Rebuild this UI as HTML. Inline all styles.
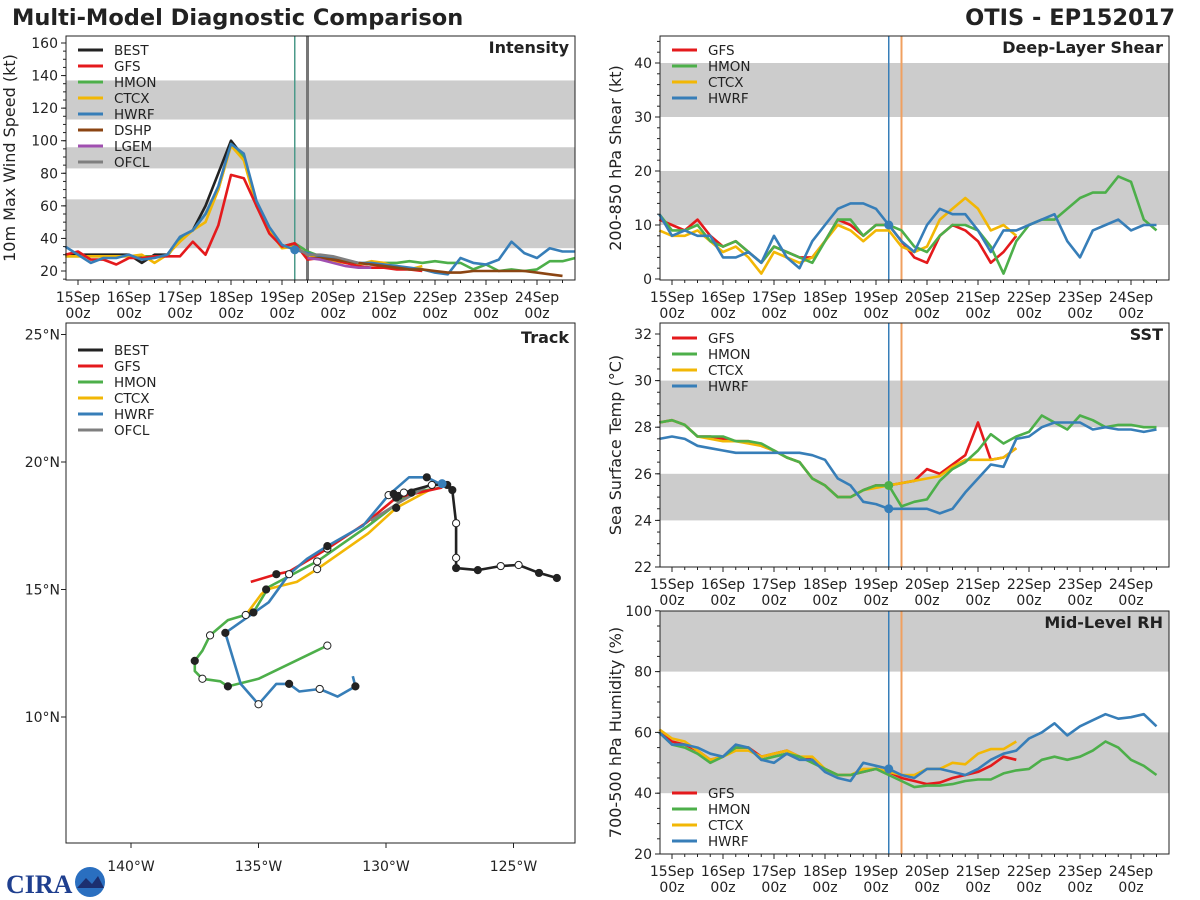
<!DOCTYPE html>
<html><head><meta charset="utf-8">
<style>
html,body{margin:0;padding:0;background:#fff;}
svg{display:block;font-family:"DejaVu Sans","Liberation Sans",sans-serif;}
</style></head>
<body>
<svg id="chart" width="1200" height="900" viewBox="0 0 1200 900" xmlns="http://www.w3.org/2000/svg">
<text x="12" y="25" font-size="22.5" font-weight="bold" fill="#222">Multi-Model Diagnostic Comparison</text>
<text x="1175" y="25" font-size="22.5" font-weight="bold" fill="#222" text-anchor="end">OTIS - EP152017</text>
<g>
<text x="6" y="893" font-size="26" font-weight="bold" fill="#1f3f8f" font-family="Liberation Serif, serif">CIRA</text>
<circle cx="90" cy="882" r="15" fill="#2a6fc0"/>
<path d="M77 888 L86 878 L92 884 L98 876 L104 888 Z" fill="#1c2f70"/>
</g>
<g id="root"></g>
</svg>
<script>
// ---------- DATA ----------
const seriesNamesIntensity = ["BEST","GFS","HMON","CTCX","HWRF","DSHP","LGEM","OFCL"];
const intBEST = [30,30,30,30,30,30,25,30,30,40,45,60,80,100,90,60,45,35,35];
const intGFS  = [30,32,27,27,24,28,28,29,29,29,38,30,48,79,77,60,43,35,37,27,28,27,25,23,22,22,21,21,20];
const intHMON = [29,29,29,29,29,29,29,29,29,40,45,55,70,98,90,62,45,35,37,32,29,27,26,25,24,25,25,26,25,26,25,25,21,24,20,21,20,21,26,26,28];
const intCTCX = [29,29,29,29,29,29,30,25,30,38,45,50,70,97,88,60,45,34,35,30,28,26,25,24,26,25,22,21,23];
const intHWRF = [35,30,25,28,28,30,27,28,30,41,45,55,72,98,92,63,47,36,33,31,29,28,26,25,25,24,23,22,21,19,18,28,25,24,27,38,31,28,34,32,32];
const intDSHP = [28,28,27,26,25,24,23,22,21,21,20,19,19,20,20,20,20,20,19,18,17];
const intLGEM = [28,27,25,23,22,22];
const intOFCL = [35,30,30,29,27,25];
const intTicks = [20,40,60,80,100,120,140,160];

const shrGFS  = [11,10,9,11,8,6,7,5,3,6,5,4,4,7,11,10,8,10,10,7,4,3,8,10,9,7,3,5,8];
const shrHMON = [12,9,9,10,7,6,7,5,3,6,5,4,3,7,11,11,8,10,10,9,6,5,8,10,10,9,6,1,7,10,11,11,13,15,16,16,19,18,11,9];
const shrCTCX = [9,8,8,9,7,5,6,4,1,5,4,3,4,7,10,9,7,9,9,6,5,6,11,13,15,13,9,10,8];
const shrHWRF = [12,8,9,8,8,4,4,5,3,8,4,2,7,10,13,14,14,13,10,7,5,10,13,12,12,9,5,9,9,10,11,12,7,4,9,10,11,9,10,10];
const shrTicks = [0,10,20,30,40];

const sstGFS  = [28.2,28.3,28.1,27.6,27.6,27.5,27.4,27.4,27.2,27,26.7,26.5,25.8,25.5,25,25,25.3,25.5,25.5,25.6,25.7,26.2,26,26.4,26.8,28.2,26.6,26.7,27.1];
const sstHMON = [28.2,28.3,28.1,27.6,27.6,27.6,27.4,27.4,27.3,27,26.7,26.5,25.8,25.5,25,25,25.3,25.5,25.5,24.6,24.8,24.9,25.7,26.2,26.5,27,27.7,27.3,27.6,27.8,28.5,28.2,27.9,28.5,28.3,28,28.1,28.1,28,28];
const sstCTCX = [28.2,28.3,28.1,27.6,27.5,27.4,27.4,27.3,27.2,27,26.7,26.5,25.8,25.5,25,25,25.3,25.4,25.5,25.6,25.7,25.8,25.9,26.3,26.6,26.6,26.6,26.7,27.1];
const sstHWRF = [27.5,27.6,27.5,27.2,27.1,27,26.9,26.9,26.9,26.9,26.9,26.9,26.8,26.6,25.8,25.5,24.8,24.7,24.5,24.5,24.5,24.5,24.3,24.5,25.2,25.8,26.4,26.3,27.5,27.6,28,28.2,28.2,28.2,27.9,28,27.9,27.9,27.8,27.9];
const sstTicks = [22,24,26,28,30,32];

const rhGFS  = [60,57,56,54,51,52,55,55,52,53,54,52,51,48,46,46,47,48,47,45,44,43,43.5,45,46,47,49,52,51];
const rhHMON = [60,56,55,53,50,52,55,55,51,52,53,52,50,48,46,46,47,48,46,44,42,42.5,42.5,43,44,44.5,44.5,46.5,47.5,48,51,52,51,52,54,57,55,51,49,46];
const rhCTCX = [61,58,57,54,51,52,54,54,52,53,54,52,52,48,46,46,48,48,47,46,46,48,48,50,49.5,53,54.5,54.5,57];
const rhHWRF = [60,56,56,55,53,52,56,55,51,50,53,51,51,47,45,44,50,49,48,46,45,48,48,47,46,48,51,53,54,58,60,63,59,62,64,66,64.5,65,66,62];
const rhTicks = [20,40,60,80,100];

const dayLabels = ["15Sep","16Sep","17Sep","18Sep","19Sep","20Sep","21Sep","22Sep","23Sep","24Sep"];

// track: [lonW, lat]
const trkBEST = [[129.7,18.75],[129.5,18.67],[129.3,18.8],[128.2,19.1],[127.6,19.1],[127.4,18.9],[127.25,17.6],[127.25,16.24],[127.25,15.84],[126.4,15.76],[125.5,15.92],[124.8,15.96],[124.0,15.65],[123.3,15.45]];
const trkHWRF = [[127.8,19.1],[128.4,19.4],[129.1,19.4],[129.9,18.7],[130.9,17.5],[132.3,16.7],[133.1,16.2],[133.8,15.6],[134.6,14.5],[136.3,13.3],[135.7,11.3],[135.0,10.5],[134.3,11.3],[133.8,11.3],[133.4,11.0],[132.6,11.1],[131.9,10.8],[131.2,11.2],[131.3,11.6]];
const trkHMON = [[127.8,19.0],[129.0,18.8],[130.7,17.5],[132.7,16.1],[134.6,15.1],[135.2,14.1],[136.2,13.8],[136.9,13.2],[137.2,12.6],[137.5,12.2],[137.5,11.8],[137.2,11.5],[136.5,11.4],[136.2,11.2],[135.0,11.5],[132.3,12.8]];
const trkGFS  = [[127.8,19.0],[129.6,18.6],[130.8,17.6],[132.3,16.6],[133.8,15.7],[134.3,15.6],[135.3,15.3]];
const trkCTCX = [[128.3,18.9],[129.6,18.2],[130.7,17.2],[132.7,15.8],[133.5,15.3],[134.7,15.0],[134.9,14.8],[135.5,14.0]];
const trkOFCL = [[128.3,19.1],[129.5,18.4],[130.6,17.7]];
const latTicks = [10,15,20,25];
const lonTicks = [140,135,130,125];

const COL = {BEST:"#222222",GFS:"#e41a1c",HMON:"#4daf4a",CTCX:"#f2b705",HWRF:"#377eb8",DSHP:"#8b4513",LGEM:"#a04fb0",OFCL:"#7f7f7f"};

// ---------- HELPERS ----------
const NS="http://www.w3.org/2000/svg";
const root=document.getElementById('root');
function mk(tag,attrs,parent){const e=document.createElementNS(NS,tag);for(const k in attrs)e.setAttribute(k,attrs[k]);(parent||root).appendChild(e);return e;}

function timePanel(o){
  const g=mk('g',{});
  
  
  const xs=h=>o.xOrig+h*51/24;
  const ys=v=>o.yA-(v-o.vA)*o.k;
  o.bands.forEach(b=>{
    const y1=Math.max(ys(b[1]),o.y0), y2=Math.min(ys(b[0]),o.y1);
    const r=mk('rect',{x:o.x0,y:y1,width:o.x1-o.x0,height:y2-y1,fill:'#cccccc'},g);
    
    
  });
  o.vlines.forEach(v=>{
    const l=mk('line',{x1:xs(v.h),x2:xs(v.h),y1:o.y0,y2:o.y1,stroke:v.c,'stroke-width':v.w},g);
    
    
  });
  o.series.forEach(s=>{
    const pts=s.vals.map((v,i)=>xs(s.h0+i*6).toFixed(1)+','+ys(v).toFixed(1)).join(' ');
    const p=mk('polyline',{points:pts,fill:'none',stroke:COL[s.n],'stroke-width':2.6,'stroke-linejoin':'round'},g);
    
    
  });
  (o.dots||[]).forEach(d=>{
    const v=d.arr[d.i];
    const c=mk('circle',{cx:xs(d.h),cy:ys(v),r:4.5,fill:COL[d.n]},g);
    
    
  });
  const f=mk('rect',{x:o.x0,y:o.y0,width:o.x1-o.x0,height:o.y1-o.y0,fill:'none',stroke:'#222','stroke-width':1},g);
  
  
  o.ticks.forEach(t=>{
    const y=ys(t);
    mk('line',{x1:o.x0-5,x2:o.x0,y1:y,y2:y,stroke:'#222'},g);
    const tx=mk('text',{x:o.x0-8,y:y+5,'font-size':14,'text-anchor':'end',fill:'#222'},g);
    tx.textContent=t;
    
    
  });
  const step=(o.ticks[1]-o.ticks[0])/o.minor;
  for(let v=o.ticks[0]-step*o.minor;v<=o.ticks[o.ticks.length-1]+step*o.minor;v+=step){
    const y=ys(v); if(y<o.y0||y>o.y1) continue;
    mk('line',{x1:o.x0-3,x2:o.x0,y1:y,y2:y,stroke:'#222'},g);
  }
  for(let h=-6;h<=240;h+=6){
    const x=xs(h); if(x<o.x0||x>o.x1) continue;
    const major=h%24===0;
    mk('line',{x1:x,x2:x,y1:o.y1,y2:o.y1+(major?5:3),stroke:'#222'},g);
  }
  dayLabels.forEach((d,i)=>{
    const x=xs(i*24);
    const t1=mk('text',{x:x,y:o.y1+22,'font-size':14,'text-anchor':'middle',fill:'#222'},g);
    t1.textContent=d;
    
    
    const t2=mk('text',{x:x,y:o.y1+38,'font-size':14,'text-anchor':'middle',fill:'#222'},g);
    t2.textContent='00z';
    
    
  });
  const cy=(o.y0+o.y1)/2;
  const yt=mk('text',{x:o.ytx,y:cy,'font-size':16,'text-anchor':'middle',fill:'#222',transform:'rotate(-90 '+o.ytx+' '+cy+')'},g);
  yt.textContent=o.ytitle;
  
  
  const pt=mk('text',{x:o.x1-6,y:o.y0+17,'font-size':16,'font-weight':'bold','text-anchor':'end',fill:'#222'},g);
  pt.textContent=o.title;
  
  
  legend(g,o.x0+7,o.legY,o.legend);
}
function legend(g,x,y,names){
  names.forEach((n,i)=>{
    const yy=y+i*16;
    const l=mk('line',{x1:x+5,x2:x+30,y1:yy,y2:yy,stroke:COL[n],'stroke-width':3},g);
    
    
    const t=mk('text',{x:x+41,y:yy+5,'font-size':13.5,fill:'#222'},g);
    t.textContent=n;
    
    
  });
}

timePanel({name:'intensity',x0:66,x1:575,y0:36,y1:280,xOrig:78,yA:271,vA:20,k:1.6286,ticks:intTicks,minor:4,
  bands:[[34,64],[83,96],[113,137]],
  vlines:[{h:102,c:'#4c9a8a',w:1.5},{h:108,c:'#777',w:3}],
  series:[{n:'BEST',h0:-6,vals:intBEST},{n:'HMON',h0:-6,vals:intHMON},{n:'CTCX',h0:-6,vals:intCTCX},{n:'GFS',h0:-6,vals:intGFS},{n:'HWRF',h0:-6,vals:intHWRF},{n:'DSHP',h0:108,vals:intDSHP},{n:'LGEM',h0:108,vals:intLGEM},{n:'OFCL',h0:102,vals:intOFCL}],
  dots:[{n:'HWRF',h:102,arr:intHWRF,i:18}],
  ytitle:'10m Max Wind Speed (kt)',ytx:15,title:'Intensity',legY:50,legend:seriesNamesIntensity});
timePanel({name:'shear',x0:660,x1:1169,y0:36,y1:280,xOrig:672,yA:279,vA:0,k:5.4,ticks:shrTicks,minor:5,
  bands:[[10,20],[30,40]],
  vlines:[{h:102,c:'#377eb8',w:1.5},{h:108,c:'#f0a060',w:2}],
  series:[{n:'GFS',h0:-6,vals:shrGFS},{n:'CTCX',h0:-6,vals:shrCTCX},{n:'HMON',h0:-6,vals:shrHMON},{n:'HWRF',h0:-6,vals:shrHWRF}],
  dots:[{n:'HWRF',h:102,arr:shrHWRF,i:18}],
  ytitle:'200-850 hPa Shear (kt)',ytx:621,title:'Deep-Layer Shear',legY:50,legend:['GFS','HMON','CTCX','HWRF']});
timePanel({name:'sst',x0:660,x1:1169,y0:323,y1:567,xOrig:672,yA:567,vA:22,k:23.3,ticks:sstTicks,minor:4,
  bands:[[24,26],[28,30]],
  vlines:[{h:102,c:'#377eb8',w:1.5},{h:108,c:'#f0a060',w:2}],
  series:[{n:'GFS',h0:-6,vals:sstGFS},{n:'CTCX',h0:-6,vals:sstCTCX},{n:'HMON',h0:-6,vals:sstHMON},{n:'HWRF',h0:-6,vals:sstHWRF}],
  dots:[{n:'HWRF',h:102,arr:sstHWRF,i:18},{n:'HMON',h:102,arr:sstHMON,i:18}],
  ytitle:'Sea Surface Temp (°C)',ytx:621,title:'SST',legY:338,legend:['GFS','HMON','CTCX','HWRF']});
timePanel({name:'rh',x0:660,x1:1169,y0:611,y1:854,xOrig:672,yA:854,vA:20,k:3.04,ticks:rhTicks,minor:4,
  bands:[[40,60],[80,100]],
  vlines:[{h:102,c:'#377eb8',w:1.5},{h:108,c:'#f0a060',w:2}],
  series:[{n:'GFS',h0:-6,vals:rhGFS},{n:'CTCX',h0:-6,vals:rhCTCX},{n:'HMON',h0:-6,vals:rhHMON},{n:'HWRF',h0:-6,vals:rhHWRF}],
  dots:[{n:'HWRF',h:102,arr:rhHWRF,i:18}],
  ytitle:'700-500 hPa Humidity (%)',ytx:621,title:'Mid-Level RH',legY:793,legend:['GFS','HMON','CTCX','HWRF']});

(function(){
  const g=mk('g',{});
  
  
  const x0=66,x1=575,y0=323,y1=843;
  const xs=lon=>131+(140-lon)*25.5;
  const ys=lat=>462-(lat-20)*25.5;
  const f=mk('rect',{x:x0,y:y0,width:x1-x0,height:y1-y0,fill:'none',stroke:'#222'},g);
  
  
  latTicks.forEach(t=>{
    const y=ys(t);
    mk('line',{x1:x0-5,x2:x0,y1:y,y2:y,stroke:'#222'},g);
    const tx=mk('text',{x:x0-6,y:y+5,'font-size':14,'text-anchor':'end',fill:'#222'},g);
    tx.textContent=t+'°N';
    
    
  });
  lonTicks.forEach(t=>{
    const x=xs(t);
    mk('line',{x1:x,x2:x,y1:y1,y2:y1+5,stroke:'#222'},g);
    const tx=mk('text',{x:x,y:y1+28,'font-size':14,'text-anchor':'middle',fill:'#222'},g);
    tx.textContent=t+'°W';
    
    
  });
  const tracks=[['HMON',trkHMON],['CTCX',trkCTCX],['GFS',trkGFS],['HWRF',trkHWRF],['OFCL',trkOFCL],['BEST',trkBEST]];
  tracks.forEach(([n,arr])=>{
    const p=mk('polyline',{points:arr.map(a=>xs(a[0]).toFixed(1)+','+ys(a[1]).toFixed(1)).join(' '),fill:'none',stroke:COL[n],'stroke-width':2.6,'stroke-linejoin':'round'},g);
    
    
  });
  tracks.forEach(([n,arr])=>{
    if(n==='OFCL') return;
    arr.forEach((a,i)=>{
      if(n!=='BEST' && (i===0 || i%2===0)) return;
      const c=mk('circle',{cx:xs(a[0]),cy:ys(a[1]),r:3.6,fill:(i%4<2)?'#222':'#fff',stroke:'#222','stroke-width':1},g);
      
      
    });
  });
  const s=mk('circle',{cx:xs(127.8),cy:ys(19.15),r:4.5,fill:COL.HWRF},g);
  
  
  const pt=mk('text',{x:x1-6,y:y0+20,'font-size':16,'font-weight':'bold','text-anchor':'end',fill:'#222'},g);
  pt.textContent='Track';
  
  
  legend(g,x0+7,350,['BEST','GFS','HMON','CTCX','HWRF','OFCL']);
})();
</script>
</body></html>
